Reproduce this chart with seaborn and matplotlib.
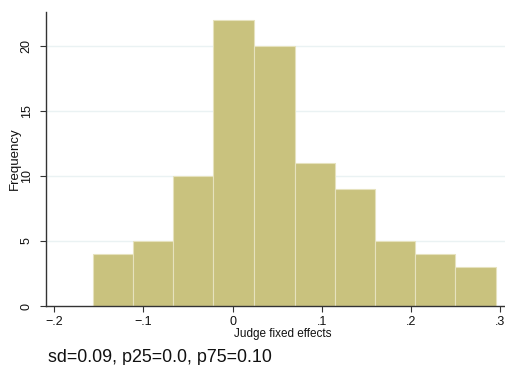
import matplotlib
matplotlib.use("Agg")
import matplotlib.pyplot as plt
import seaborn as sns
import numpy as np

# Data
bin_edges = [-0.157, -0.1118, -0.067, -0.0217, 0.0242, 0.0695, 0.1143, 0.159, 0.2044, 0.2496, 0.2948]
counts = [4, 5, 10, 22, 20, 11, 9, 5, 4, 3]
x_ticks = [-0.2, -0.1, 0.0, 0.1, 0.2, 0.3]
x_tick_labels = ["\u2212.2", "\u2212.1", "0", ".1", ".2", ".3"]
y_ticks = [0, 5, 10, 15, 20]
y_tick_labels = ["0", "5", "10", "15", "20"]
note = "sd=0.09, p25=0.0, p75=0.10"

centers = [(a + b) / 2 for a, b in zip(bin_edges[:-1], bin_edges[1:])]

sns.set_style("white")
plt.rcParams['font.family'] = ['Liberation Sans', 'DejaVu Sans']

W, H = 506, 365
fig = plt.figure(figsize=(W / 100, H / 100), dpi=100)
ax = fig.add_axes([46 / W, 59 / H, (W - 46) / W, (306 - 12) / H])

for yv in y_ticks[1:]:
    ax.axhline(yv, color="#EAF2F3", lw=1.0, zorder=0)

sns.histplot(x=centers, weights=counts, bins=bin_edges, ax=ax,
             color="#C9C27E", edgecolor="#E6E2BE", linewidth=0.8, alpha=1.0, zorder=2)

ax.set_xlim(-0.2093, 0.3064)
ax.set_ylim(0, 22.6)

ax.set_xticks(x_ticks)
ax.set_xticklabels(x_tick_labels, fontsize=9)
ax.set_yticks(y_ticks)
ax.set_yticklabels(y_tick_labels, fontsize=9, rotation=90, va="center")
ax.tick_params(axis="both", direction="out", length=4.5, width=0.8, color="#333333",
               labelcolor="#111111")
ax.tick_params(axis="x", bottom=True, pad=2.5)
ax.tick_params(axis="y", left=True, pad=5)

for s in ["top", "right"]:
    ax.spines[s].set_visible(False)
for s in ["left", "bottom"]:
    ax.spines[s].set_color("#333333")
    ax.spines[s].set_linewidth(1.0)

ax.set_xlabel("Judge fixed effects", fontsize=8.5, color="#111111")
ax.xaxis.set_label_coords((283 - 46) / (W - 46), -22 / (306 - 12))
ax.set_ylabel("Frequency", fontsize=9.5, color="#111111")
ax.yaxis.set_label_coords(-25 / (W - 46), 0.5)

fig.text(48 / W, 3.3 / H, note, fontsize=12.9, color="#111111", va="baseline", ha="left")

fig.savefig("out.png", dpi=100)
